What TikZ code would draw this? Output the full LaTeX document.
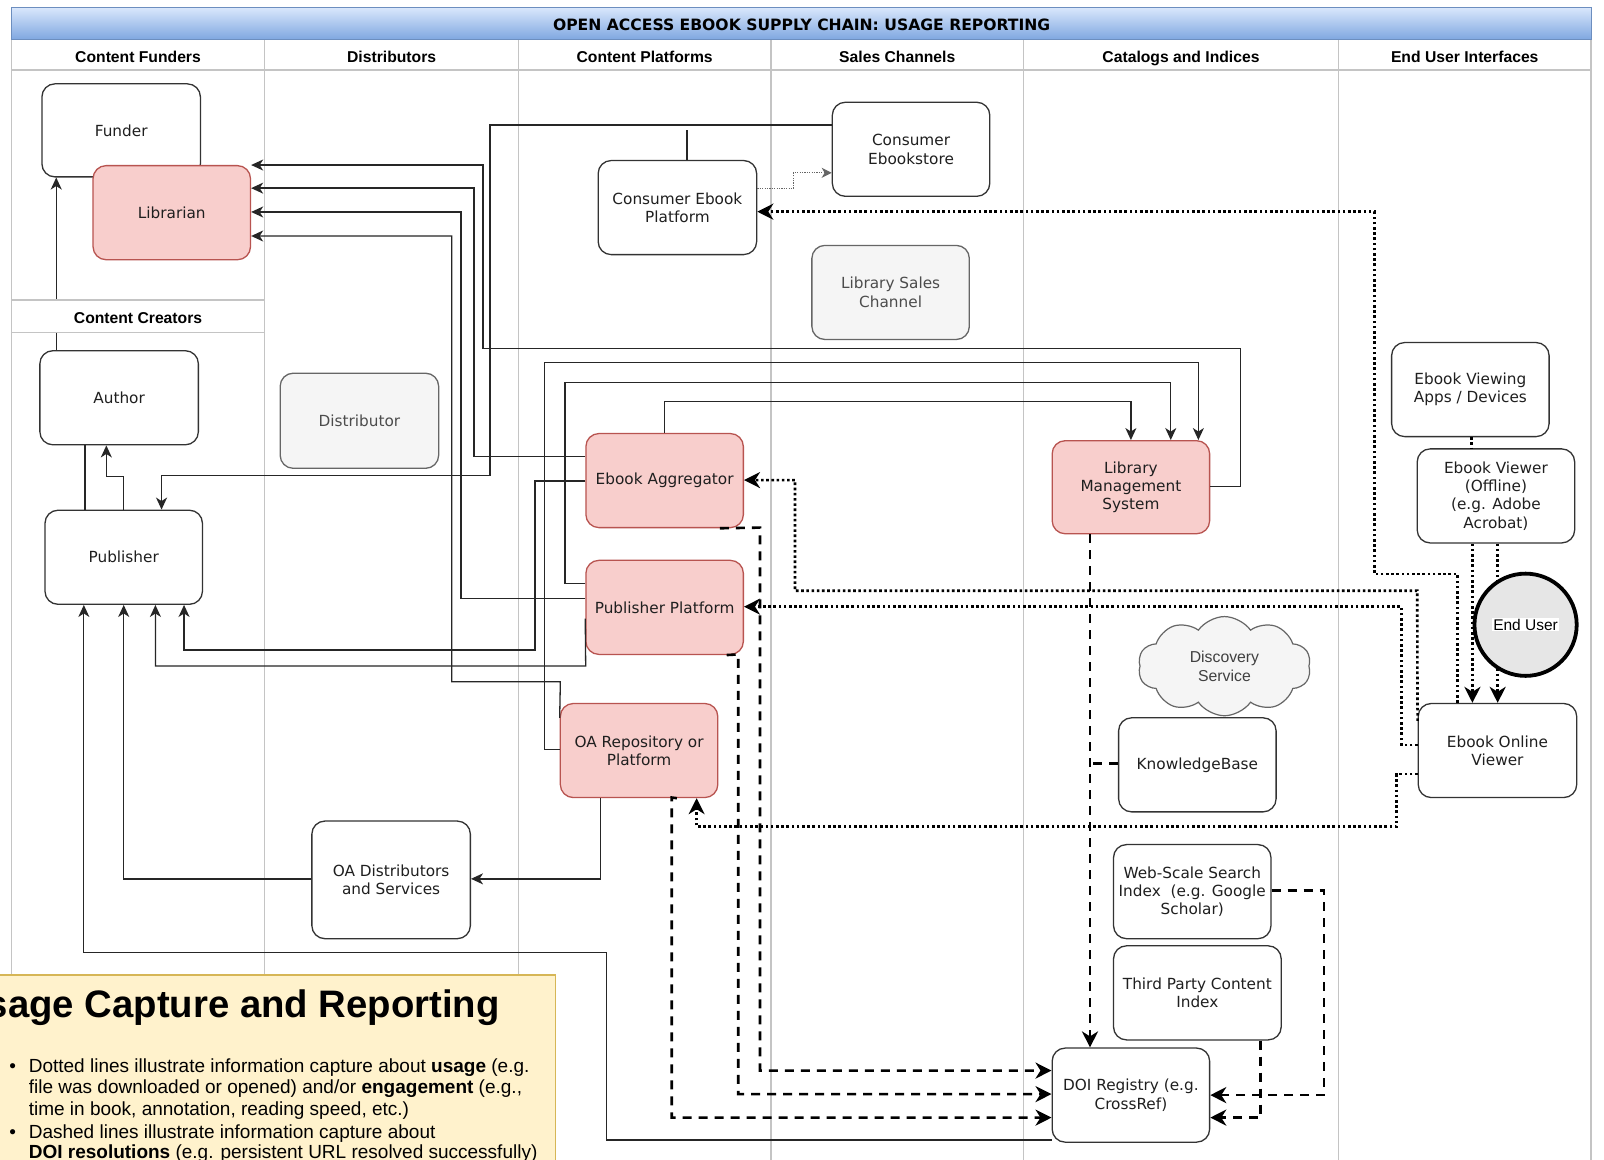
\documentclass[tikz,border=0pt]{standalone}
\usepackage{fontspec}
\setmainfont{DejaVu Sans}
\newfontfamily\arialf{Liberation Sans}
\usetikzlibrary{arrows.meta,shapes.symbols,shapes.geometric}
\definecolor{redfill}{HTML}{F8CECC}
\definecolor{redline}{HTML}{B85450}
\definecolor{grayfill}{HTML}{F5F5F5}
\definecolor{grayline}{HTML}{666666}
\definecolor{lanecol}{HTML}{C4C4C4}
\definecolor{legfill}{HTML}{FFF2CC}
\definecolor{legline}{HTML}{D6B656}
\definecolor{titletop}{HTML}{DAE8FC}
\definecolor{titlebot}{HTML}{7EA6E0}
\definecolor{titleline}{HTML}{6C8EBF}
\definecolor{boxline}{HTML}{333333}
\definecolor{euser}{HTML}{E6E6E6}
\newcommand\boxfont{\fontsize{15.3}{18.4}\selectfont}
\newcommand\hdrfont{\arialf\bfseries\fontsize{15.7}{18}\selectfont}
\newcommand\titlefont{\bfseries\fontsize{15.6}{18}\selectfont}
\newcommand\legfont{\arialf\fontsize{19}{21.5}\selectfont}
\newcommand\mkbox[7]{\node[#6, minimum width={(#4-#2)*1.0225pt}, minimum height={(#5-#3)*1.0225pt}] (#1) at ({(#2+#4)/2},{(#3+#5)/2}) {#7};}
\begin{document}
\begin{tikzpicture}[x=1.0225pt,y=-1.0225pt,
  bx/.style={draw=boxline, line width=1.3pt, rounded corners=13pt, fill=white, align=center, inner sep=1pt, font=\boxfont, text=black!88},
  redbx/.style={bx, fill=redfill, draw=redline},
  graybx/.style={bx, fill=grayfill, draw=grayline, text=black!70},
  laneline/.style={draw=lanecol, line width=1.3pt},
  sol/.style={draw=black!85, line width=1.3pt},
  tipS/.style={-{Stealth[length=12pt,width=11pt,inset=3.5pt]}},
  dotl/.style={draw=black, line width=2.6pt, dash pattern=on 2.6pt off 2.6pt},
  thindot/.style={draw=black!60, line width=1pt, dash pattern=on 1.2pt off 1.2pt},
  dashl/.style={draw=black, line width=2.6pt, dash pattern=on 9pt off 7pt},
  tipB/.style={-{Stealth[length=16pt,width=16pt,inset=5pt]}},
  hdr/.style={font=\hdrfont, inner sep=0pt, anchor=base},
  legtxt/.style={anchor=base west, inner sep=0pt, font=\legfont}
]
\useasboundingbox (0,0) rectangle (1568.7,1133.5);
\fill[white] (0,0) rectangle (1568.7,1133.5);

% lanes
\foreach \xx in {11,259,507,754,1001,1309,1556} \draw[laneline] (\xx,39) -- (\xx,1145);
\draw[laneline] (11,68.5) -- (1556,68.5);
\shade[top color=titletop,bottom color=titlebot] (11,7) rectangle (1556,39);
\draw[titleline,line width=1pt] (11,7) rectangle (1556,39);
\node[font=\titlefont, inner sep=0pt] (title) at (784,24) {OPEN ACCESS EBOOK SUPPLY CHAIN: USAGE REPORTING};
\node[hdr] (h1) at (135,61) {Content Funders};
\node[hdr] (h2) at (383,61) {Distributors};
\node[hdr] (h3) at (630.5,61) {Content Platforms};
\node[hdr] (h4) at (877.5,61) {Sales Channels};
\node[hdr] (h5) at (1155,61) {Catalogs and Indices};
\node[hdr] (h6) at (1432.5,61) {End User Interfaces};

% legend
\draw[legline, fill=legfill, line width=1.2pt] (-20,953.5) rectangle (543.5,1170);
\node[anchor=base east, inner sep=0pt, font=\arialf\bfseries\fontsize{38.3}{42}\selectfont] (legh) at (489,995) {Usage Capture and Reporting};
\node[legtxt] (b1) at (9,1049) {•};
\node[legtxt] (l1) at (28,1049) {Dotted lines illustrate information capture about \textbf{usage} (e.g.};
\node[legtxt] (l2) at (28,1069.5) {file was downloaded or opened) and/or \textbf{engagement} (e.g.,};
\node[legtxt] (l3) at (28,1090.5) {time in book, annotation, reading speed, etc.)};
\node[legtxt] (b2) at (9,1113) {•};
\node[legtxt] (l4) at (28,1113) {Dashed lines illustrate information capture about};
\node[legtxt] (l5) at (28,1133) {\textbf{DOI resolutions} (e.g. persistent URL resolved successfully)};

% nodes
\mkbox{funder}{41}{82}{196}{173}{bx}{Funder}
\mkbox{lib}{91}{162}{245}{254}{redbx}{Librarian}
\mkbox{author}{39}{343}{194}{435}{bx}{Author}
\mkbox{publisher}{44}{499}{198}{591}{bx}{Publisher}
\mkbox{distributor}{274}{365}{429}{458}{graybx}{Distributor}
\mkbox{cplat}{585}{157}{740}{249}{bx}{Consumer Ebook\\Platform}
\mkbox{estore}{814}{100}{968}{192}{bx}{Consumer\\Ebookstore}
\mkbox{lsales}{794}{240}{948}{332}{graybx}{Library Sales\\Channel}
\mkbox{agg}{573}{424}{727}{516}{redbx}{Ebook Aggregator}
\mkbox{pplat}{573}{548}{727}{640}{redbx}{Publisher Platform}
\mkbox{oa}{548}{688}{702}{780}{redbx}{OA Repository or\\Platform}
\mkbox{oad}{305}{803}{460}{918}{bx}{OA Distributors\\and Services}
\mkbox{lms}{1029}{431}{1183}{522}{redbx}{Library\\Management\\System}
\mkbox{vapps}{1361}{335}{1515}{427}{bx}{Ebook Viewing\\Apps / Devices}
\mkbox{offline}{1386}{439}{1540}{531}{bx}{Ebook Viewer\\(Offline)\\(e.g. Adobe\\Acrobat)}
\mkbox{online}{1387}{688}{1542}{780}{bx}{Ebook Online\\Viewer}
\mkbox{kb}{1094}{702}{1248}{794}{bx}{KnowledgeBase}
\mkbox{web}{1089}{826}{1243}{918}{bx}{Web-Scale Search\\Index\ \ (e.g. Google\\Scholar)}
\mkbox{third}{1089}{925}{1253}{1017}{bx}{Third Party Content\\Index}
\mkbox{doi}{1029}{1025}{1183}{1117}{bx}{DOI Registry (e.g.\\CrossRef)}
\node[cloud, cloud puffs=10, cloud puff arc=110, aspect=1.75, draw=grayline, fill=grayfill, line width=1.2pt,
  minimum width={169*1.0225pt}, minimum height={97*1.0225pt}, inner sep=0pt, align=center,
  font=\arialf\fontsize{15.8}{18.4}\selectfont, text=black!75] (disc) at (1197.5,651.5) {Discovery\\Service};

% solid connectors
\draw[sol,tipS] (author.north -| 55,0) -- (funder.south -| 55,0);
\draw[sol] (publisher.north -| 83,0) -- (author.south -| 83,0);
\draw[sol,tipS] (publisher.north -| 121,0) -- (121,466) -- (104,466) -- (author.south -| 104,0);
\draw[sol,tipS] (estore.west |- 0,122.2) -- (479.2,122.2) -- (479.2,465.3) -- (158,465.3) -- (publisher.north -| 158,0);
\draw[sol] (cplat.north -| 672,0) -- (672,127);
\draw[sol,tipS] (lms.east |- 0,476) -- (1213,476) -- (1213,340.7) -- (472.4,340.7) -- (472.4,161.4) -- (lib.east |- 0,161.4);
\draw[sol,tipS] (agg.west |- 0,446.6) -- (463.6,446.6) -- (463.6,184) -- (lib.east |- 0,184);
\draw[sol,tipS] (pplat.west |- 0,585.2) -- (450.9,585.2) -- (450.9,207.3) -- (lib.east |- 0,207.3);
\draw[sol,tipS] (oa.west |- 0,702) -- (548,666.7) -- (441.8,666.7) -- (441.8,230.8) -- (lib.east |- 0,230.8);
\draw[sol,tipS] (agg.north -| 650,0) -- (650,393) -- (1106,393) -- (lms.north -| 1106,0);
\draw[sol,tipS] (pplat.west |- 0,570.5) -- (552.6,570.5) -- (552.6,373.9) -- (1145,373.9) -- (lms.north -| 1145,0);
\draw[sol,tipS] (oa.west |- 0,733) -- (532.4,733) -- (532.4,354.3) -- (1172,354.3) -- (lms.north -| 1172,0);
\draw[sol,tipS] (agg.west |- 0,470.4) -- (523.2,470.4) -- (523.2,635.7) -- (180,635.7) -- (publisher.south -| 180,0);
\draw[sol,tipS] (pplat.west |- 0,605) -- (572.8,651.4) -- (152,651.4) -- (publisher.south -| 152,0);
\draw[sol,tipS] (oad.west |- 0,859.5) -- (121,859.5) -- (publisher.south -| 121,0);
\draw[sol,tipS] (doi.west |- 0,1115) -- (593,1115) -- (593,931.5) -- (82,931.5) -- (publisher.south -| 82,0);
\draw[sol,tipS] (oa.south -| 587,0) -- (587,859.5) -- (oad.east |- 0,859.5);

% thin dotted
\draw[thindot,-{Stealth[length=10pt,width=10pt,inset=3pt]}] (cplat.east |- 0,184) -- (776,184) -- (776,169) -- (estore.west |- 0,169);

% dotted usage
\draw[dotl,tipB] (online.north -| 1425.3,0) -- (1425.3,561.4) -- (1344,561.4) -- (1344,207) -- (cplat.east |- 0,207);
\draw[dotl,tipB] (online.west |- 0,705) -- (1386,577.7) -- (777.5,577.7) -- (777.5,469.5) -- (agg.east |- 0,469.5);
\draw[dotl,tipB] (online.west |- 0,728.6) -- (1370.8,728.6) -- (1370.8,593.3) -- (pplat.east |- 0,593.3);
\draw[dotl,tipB] (online.west |- 0,757) -- (1366,757) -- (1366,808.5) -- (681.3,808.5) -- (oa.south -| 681.3,0);
\draw[dotl] (vapps.south -| 1439,0) -- (offline.north -| 1439,0);
\draw[dotl,tipB] (offline.south -| 1440,0) -- (online.north -| 1440,0);
\draw[dotl,tipB] (offline.south -| 1464.7,0) -- (online.north -| 1464.7,0);

% dashed DOI
\draw[dashl,tipB] (lms.south -| 1066,0) -- (doi.north -| 1066,0);
\draw[dashl] (kb.west |- 0,746.5) -- (1066,746.5);
\draw[dashl,tipB] (web.east |- 0,871) -- (1295,871) -- (1295,1071) -- (doi.east |- 0,1071);
\draw[dashl,tipB] (third.south -| 1233,0) -- (1233,1093) -- (doi.east |- 0,1093);
\draw[dashl,tipB] (agg.south -| 704,0) -- (743.3,516) -- (743.3,1047) -- (doi.west |- 0,1047);
\draw[dashl,tipB] (pplat.south -| 710.7,0) -- (722,640) -- (722,1070) -- (doi.west |- 0,1070);
\draw[dashl,tipB] (oa.south -| 662,0) -- (657,780) -- (657,1093) -- (doi.west |- 0,1093);

% end user
\node[circle, draw=black, line width=3.8pt, fill=euser, minimum size={100*1.0225pt}, inner sep=0pt] (enduser) at (1492,611) {};
\node[fill=white, inner sep=1pt, font=\arialf\fontsize{15.5}{18}\selectfont] (eutext) at (enduser.center) {End User};

% content creators band
\fill[white] (12,293.4) rectangle (258,325.4);
\draw[laneline] (11,293.4) -- (259,293.4);
\draw[laneline] (11,325.4) -- (259,325.4);
\node[hdr] (h7) at (135,316.5) {Content Creators};
\end{tikzpicture}
\end{document}
